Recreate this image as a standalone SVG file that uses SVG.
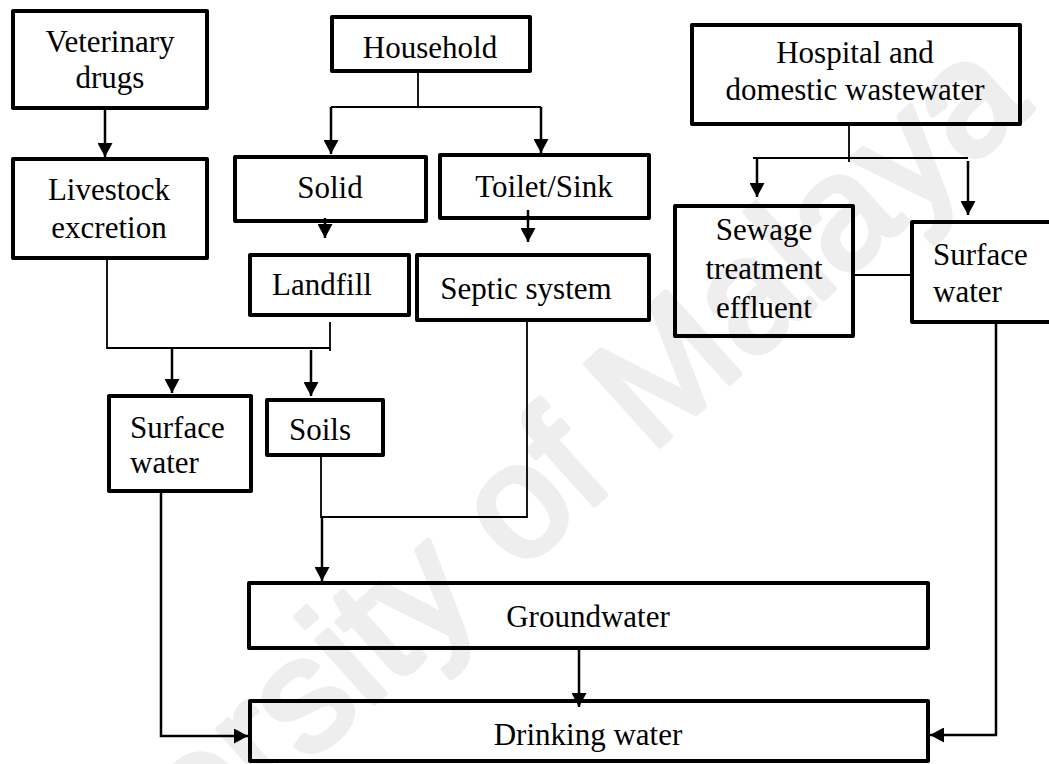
<svg xmlns="http://www.w3.org/2000/svg" width="1049" height="764" viewBox="0 0 1049 764">
<defs>
<marker id="ah" markerUnits="userSpaceOnUse" markerWidth="14" markerHeight="15" refX="14" refY="7.5" orient="auto" viewBox="0 0 14 15">
<path d="M0,0 L14,7.5 L0,15 z" fill="#000"/>
</marker>
</defs>
<style>
.box{fill:none;stroke:#000;stroke-width:4;stroke-linejoin:round}
.t{font-family:"Liberation Serif","Times New Roman",serif;font-size:31px;fill:#000}
.c{text-anchor:middle}
.arr{fill:none;stroke:#000;stroke-width:2.5;marker-end:url(#ah)}
.ln{fill:none;stroke:#000;stroke-width:1.8}
.wm{font-family:"Liberation Sans",Arial,sans-serif;font-size:160px;fill:#eeeeee;stroke:#eeeeee;stroke-width:6;stroke-linejoin:round}
</style>
<rect width="1049" height="764" fill="#fff"/>
<text class="wm" transform="translate(-37,1073) rotate(-42)">University of Malaya</text>

<g id="connectors">
<line class="arr" x1="105" y1="110" x2="105" y2="157"/>
<line class="ln" x1="418" y1="73" x2="418" y2="107"/>
<line class="ln" x1="331" y1="107" x2="541" y2="107"/>
<line class="arr" x1="331" y1="107" x2="331" y2="154"/>
<line class="arr" x1="541" y1="107" x2="541" y2="153"/>
<line class="arr" x1="325" y1="218" x2="325" y2="238"/>
<line class="arr" x1="528" y1="210" x2="528" y2="242"/>
<polyline class="ln" points="107,260 107,348 330,348"/>
<line class="ln" x1="330" y1="322" x2="330" y2="351"/>
<line class="arr" x1="172" y1="348" x2="172" y2="393"/>
<line class="arr" x1="311" y1="350" x2="311" y2="396"/>
<polyline class="ln" points="321,457 321,517 527,517 527,322"/>
<line class="arr" x1="322" y1="517" x2="322" y2="581"/>
<line class="arr" x1="579" y1="650" x2="579" y2="707"/>
<polyline class="arr" points="161,493 161,736 248,736"/>
<line class="ln" x1="849" y1="126" x2="849" y2="162"/>
<line class="ln" x1="753" y1="158" x2="968" y2="158"/>
<line class="arr" x1="757" y1="158" x2="757" y2="197"/>
<line class="arr" x1="968" y1="161" x2="968" y2="215"/>
<line class="ln" x1="855" y1="275" x2="910" y2="275"/>
<polyline class="arr" points="996,324 996,735 930,735"/>
</g>

<g id="veterinary">
<rect class="box" x="13" y="11" width="194" height="97"/>
<text class="t c" x="110" y="52">Veterinary</text>
<text class="t c" x="110" y="88">drugs</text>
</g>
<g id="household">
<rect class="box" x="332" y="17" width="198" height="54"/>
<text class="t c" x="430" y="58">Household</text>
</g>
<g id="hospital">
<rect class="box" x="692" y="25" width="328" height="99"/>
<text class="t c" x="855" y="63">Hospital and</text>
<text class="t c" x="855" y="100">domestic wastewater</text>
</g>
<g id="livestock">
<rect class="box" x="13" y="159" width="194" height="99"/>
<text class="t c" x="109" y="200">Livestock</text>
<text class="t c" x="109" y="238">excretion</text>
</g>
<g id="solid">
<rect class="box" x="235" y="157" width="191" height="64"/>
<text class="t c" x="330" y="198">Solid</text>
</g>
<g id="toilet">
<rect class="box" x="440" y="155" width="209" height="63"/>
<text class="t c" x="544" y="197">Toilet/Sink</text>
</g>
<g id="sewage">
<rect class="box" x="675" y="206" width="178" height="130"/>
<text class="t c" x="764" y="240">Sewage</text>
<text class="t c" x="764" y="279">treatment</text>
<text class="t c" x="764" y="318">effluent</text>
</g>
<g id="surface-right">
<rect class="box" x="912" y="222" width="142" height="100"/>
<text class="t" x="933" y="265">Surface</text>
<text class="t" x="933" y="302">water</text>
</g>
<g id="landfill">
<rect class="box" x="250" y="255" width="159" height="60"/>
<text class="t c" x="322" y="295">Landfill</text>
</g>
<g id="septic">
<rect class="box" x="417" y="255" width="232" height="65"/>
<text class="t c" x="526" y="299">Septic system</text>
</g>
<g id="surface-left">
<rect class="box" x="109" y="396" width="142" height="95"/>
<text class="t" x="130" y="438">Surface</text>
<text class="t" x="130" y="473">water</text>
</g>
<g id="soils">
<rect class="box" x="267" y="400" width="116" height="55"/>
<text class="t c" x="320" y="440">Soils</text>
</g>
<g id="groundwater">
<rect class="box" x="249" y="583" width="679" height="65"/>
<text class="t c" x="588" y="627">Groundwater</text>
</g>
<g id="drinking">
<rect class="box" x="250" y="701" width="678" height="60"/>
<text class="t c" x="588" y="745">Drinking water</text>
</g>
</svg>
